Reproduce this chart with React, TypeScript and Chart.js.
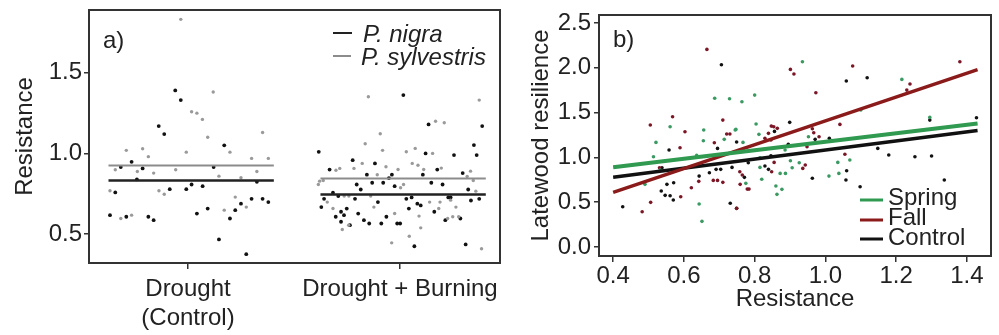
import React, { useEffect, useRef } from "react";
import { Chart, registerables } from "chart.js";
Chart.register(...registerables);

const FONT = '"Liberation Sans", Arial, Helvetica, sans-serif';
const TEXT = "#222";

// ---------- Panel a: Resistance by treatment ----------
const categoryLabels = [["Drought", "(Control)"], ["Drought + Burning"]];
const resistanceTicks = [0.5, 1.0, 1.5];

const droughtNigraJitter = [-0.06, -0.034, -0.138, -0.112, 0.171, -0.266, -0.317, -0.214, 0.121, -0.241, 0.325, -0.343, -0.086, -0.008, 0.017, 0.069, 0.25, 0.3, 0.352, 0.379, 0.093, 0.042, 0.223, 0.198, -0.368, -0.291, -0.187, -0.162, 0.146, 0.275];
const droughtNigraValues = [1.391, 1.331, 1.17, 1.12, 1.05, 0.948, 0.915, 0.907, 0.915, 0.839, 0.824, 0.758, 0.778, 0.778, 0.807, 0.797, 0.688, 0.718, 0.718, 0.698, 0.658, 0.627, 0.648, 0.596, 0.617, 0.607, 0.607, 0.586, 0.466, 0.375];

const droughtSylvJitter = [-0.034, 0.119, 0.017, 0.042, 0.068, 0.093, 0.352, -0.291, -0.214, -0.187, -0.008, 0.198, 0.3, 0.379, -0.343, -0.239, -0.162, -0.058, 0.146, 0.25, 0.325, -0.368, -0.137, -0.112, 0.223, 0.275, 0.171, -0.317, -0.266];
const droughtSylvValues = [1.832, 1.381, 1.259, 1.25, 1.211, 1.1, 1.13, 1.019, 1.029, 0.98, 1.008, 1.008, 0.969, 0.969, 0.899, 0.888, 0.878, 0.899, 0.859, 0.849, 0.888, 0.768, 0.768, 0.747, 0.729, 0.667, 0.648, 0.596, 0.617];

const burningNigraJitter = [0.016, 0.135, 0.388, -0.383, 0.121, 0.255, 0.349, 0.362, -0.223, -0.118, 0.176, -0.332, -0.156, -0.038, 0.108, 0.296, -0.131, -0.079, -0.052, -0.025, 0.148, 0.201, -0.204, -0.185, 0.322, -0.316, -0.291, -0.212, -0.358, 0.03, 0.055, 0.082, 0.098, 0.228, 0.239, 0.335, 0.374, -0.104, -0.371, -0.251, 0.042, -0.278, 0.162, -0.197, -0.303, -0.264, -0.064, 0.214, 0.285, -0.17, -0.278, -0.145, -0.088, -0.013, 0.001, -0.236, 0.068, 0.31];
const burningNigraValues = [1.362, 1.18, 1.17, 1.01, 1.0, 0.99, 1.052, 0.99, 0.958, 0.938, 0.9, 0.9, 0.868, 0.868, 0.868, 0.878, 0.818, 0.818, 0.847, 0.797, 0.818, 0.807, 0.807, 0.776, 0.776, 0.756, 0.735, 0.718, 0.718, 0.718, 0.727, 0.688, 0.677, 0.727, 0.727, 0.708, 0.718, 0.698, 0.667, 0.658, 0.658, 0.638, 0.638, 0.627, 0.607, 0.617, 0.607, 0.586, 0.596, 0.586, 0.576, 0.565, 0.565, 0.565, 0.565, 0.555, 0.424, 0.435];

const burningSylvJitter = [-0.149, 0.374, 0.168, 0.209, -0.093, -0.164, 0.072, -0.082, 0.03, 0.154, -0.178, -0.066, -0.009, 0.058, 0.085, 0.112, 0.195, 0.333, -0.302, -0.284, -0.217, -0.107, 0.317, -0.379, -0.362, 0.003, 0.017, 0.346, -0.385, 0.358, -0.263, -0.241, -0.138, -0.343, 0.14, 0.189, 0.239, -0.316, -0.123, 0.183, 0.264, -0.025, 0.09, 0.225, 0.249, 0.277, -0.242, -0.272, 0.098, 0.044, -0.039, 0.385];
const burningSylvValues = [1.352, 1.331, 1.2, 1.19, 1.122, 1.06, 1.031, 1.019, 1.01, 1.0, 0.938, 0.917, 0.9, 0.938, 0.927, 0.9, 0.909, 0.89, 0.896, 0.907, 0.907, 0.868, 0.857, 0.828, 0.832, 0.787, 0.807, 0.832, 0.807, 0.766, 0.735, 0.735, 0.735, 0.698, 0.698, 0.698, 0.71, 0.658, 0.667, 0.658, 0.667, 0.627, 0.611, 0.596, 0.607, 0.607, 0.555, 0.528, 0.538, 0.486, 0.445, 0.408];

const meanNigra = [0.832, 0.745];
const meanSylvestris = [0.925, 0.845];

// ---------- Panel b: Latewood resilience vs resistance ----------
const resistanceAxisTicks = [0.4, 0.6, 0.8, 1.0, 1.2, 1.4];
const resilienceTicks = [0.0, 0.5, 1.0, 1.5, 2.0, 2.5];

const springResistance = [0.687, 0.729, 0.561, 0.656, 0.747, 0.521, 0.655, 0.714, 0.514, 0.636, 0.533, 0.49, 0.643, 0.651, 0.935, 0.8, 0.764, 0.804, 0.812, 0.952, 0.745, 0.767, 0.886, 1.069, 0.815, 0.901, 0.926, 1.035, 0.815, 0.906, 0.872, 0.887, 0.82, 1.01, 1.038, 0.775, 0.86, 0.877, 0.863, 1.216, 1.1, 1.295, 0.488];
const springResilience = [1.66, 1.655, 1.343, 1.306, 1.313, 1.168, 1.186, 1.202, 1.008, 1.023, 0.859, 0.7, 0.48, 0.287, 2.068, 1.696, 1.622, 1.373, 1.258, 1.231, 1.306, 1.168, 1.083, 0.971, 0.997, 0.963, 0.941, 0.945, 0.889, 0.885, 0.822, 0.822, 0.756, 0.792, 0.822, 0.711, 0.681, 0.644, 0.588, 1.871, 1.529, 1.447, 0.718];

const fallResistance = [0.665, 0.568, 0.505, 0.603, 0.71, 0.721, 0.73, 0.686, 0.589, 0.642, 0.683, 0.695, 0.71, 0.621, 0.591, 0.506, 0.482, 0.749, 0.901, 0.911, 1.077, 0.973, 1.041, 0.847, 0.854, 0.864, 0.963, 0.967, 0.839, 0.829, 0.982, 0.846, 0.948, 1.055, 0.855, 0.943, 0.936, 0.848, 0.758, 0.765, 0.759, 0.779, 0.784, 1.38, 1.239, 1.23, 0.531];
const fallResilience = [2.206, 1.454, 1.362, 1.287, 1.417, 1.261, 1.261, 1.164, 1.108, 0.733, 0.744, 0.744, 0.722, 0.662, 0.562, 0.499, 0.394, 0.432, 1.983, 1.931, 2.02, 1.722, 1.369, 1.35, 1.343, 1.325, 1.32, 1.276, 1.269, 1.213, 1.231, 1.194, 1.12, 1.035, 0.945, 0.915, 0.878, 0.84, 0.84, 0.804, 0.7, 0.647, 0.647, 2.068, 1.819, 1.752, 0.885];

const controlResistance = [0.706, 0.695, 0.558, 0.538, 0.643, 0.672, 0.691, 0.704, 0.736, 0.571, 0.552, 0.536, 0.547, 0.561, 0.57, 0.427, 0.731, 0.899, 0.856, 0.971, 1.011, 0.749, 0.895, 0.846, 0.782, 0.829, 0.839, 0.771, 0.963, 1.058, 0.749, 1.059, 1.118, 1.295, 1.427, 1.148, 1.179, 1.253, 1.3, 1.336, 1.098, 1.06];
const controlResilience = [2.035, 1.101, 1.083, 0.885, 0.792, 0.829, 0.867, 0.867, 0.889, 0.718, 0.7, 0.625, 0.577, 0.573, 0.525, 0.45, 0.488, 1.392, 1.291, 1.202, 1.213, 1.172, 1.146, 1.019, 0.941, 0.904, 0.867, 0.778, 0.767, 0.748, 0.432, 1.853, 1.89, 1.417, 1.443, 1.101, 1.027, 1.008, 1.016, 0.748, 0.673, 0.852];

const fitRange = [0.4, 1.43];
const springFit = [0.89, 1.38];
const fallFit = [0.61, 1.98];
const controlFit = [0.78, 1.3];

const GREEN = "#2f9a50";
const GREEN_PT = "#3a9a62";
const RED = "#8b1a1a";
const RED_PT = "#7a1626";
const BLACK = "#111111";
const GRAY = "#9a9a9a";

const jitterPoints = (center: number, jitter: number[], values: number[]) =>
  jitter.map((j, i) => ({ x: center + j, y: values[i] }));
const pairPoints = (xs: number[], ys: number[]) => xs.map((x, i) => ({ x, y: ys[i] }));
const fitPoints = (ys: number[]) => fitRange.map((x, i) => ({ x, y: ys[i] }));
const meanSegment = (center: number, value: number) => [
  { x: center - 0.375, y: value },
  { x: center + 0.405, y: value },
];

const font = (size: number, style = "normal") => ({ family: FONT, size, style, lineHeight: 1.2 });

function fixAxis(size: number, horizontal: boolean) {
  return (scale: any) => {
    if (horizontal) {
      scale.height = size;
      scale.paddingLeft = 0;
      scale.paddingRight = 0;
    } else {
      scale.width = size;
      scale.paddingTop = 0;
      scale.paddingBottom = 0;
    }
  };
}

function boxPlugin(extra: (ctx: CanvasRenderingContext2D, area: any) => void) {
  return {
    id: "boxAndNotes",
    afterDraw(chart: any) {
      const { ctx, chartArea: a } = chart;
      ctx.save();
      ctx.strokeStyle = "#333";
      ctx.lineWidth = 2;
      ctx.strokeRect(a.left, a.top, a.right - a.left, a.bottom - a.top);
      extra(ctx, a);
      ctx.restore();
    },
  };
}

function legendLine(ctx: CanvasRenderingContext2D, x1: number, x2: number, y: number, color: string, w: number) {
  ctx.beginPath();
  ctx.strokeStyle = color;
  ctx.lineWidth = w;
  ctx.moveTo(x1, y);
  ctx.lineTo(x2, y);
  ctx.stroke();
}

const tickGrid = (len: number) => ({
  display: true,
  drawOnChartArea: false,
  drawTicks: true,
  tickLength: len,
  color: "#333",
  lineWidth: 1.5,
});

function configA(): any {
  const pts = (color: string, r: number) => ({ showLine: false, pointRadius: r, pointBackgroundColor: color, pointBorderWidth: 0, borderColor: color, order: 1 });
  const seg = (color: string, w: number) => ({ showLine: true, pointRadius: 0, borderColor: color, borderWidth: w, order: 0 });
  return {
    type: "scatter",
    data: {
      datasets: [
        { data: [...jitterPoints(1, droughtSylvJitter, droughtSylvValues), ...jitterPoints(2, burningSylvJitter, burningSylvValues)], ...pts(GRAY, 1.7) },
        { data: [...jitterPoints(1, droughtNigraJitter, droughtNigraValues), ...jitterPoints(2, burningNigraJitter, burningNigraValues)], ...pts(BLACK, 1.9) },
        { data: meanSegment(1, meanSylvestris[0]), ...seg("#8c8c8c", 2) },
        { data: meanSegment(2, meanSylvestris[1]), ...seg("#8c8c8c", 2) },
        { data: meanSegment(1, meanNigra[0]), ...seg("#222", 2.5) },
        { data: meanSegment(2, meanNigra[1]), ...seg("#222", 2.5) },
      ],
    },
    options: {
      animation: false,
      responsive: false,
      devicePixelRatio: 1,
      events: [],
      layout: { padding: { top: 10, right: 5, left: 0, bottom: 0 } },
      plugins: { legend: { display: false }, tooltip: { enabled: false } },
      scales: {
        x: {
          type: "linear",
          min: 0.533,
          max: 2.472,
          afterBuildTicks: (s: any) => { s.ticks = categoryLabels.map((_, i) => ({ value: i + 1 })); },
          afterFit: fixAxis(72, true),
          grid: tickGrid(6),
          border: { display: false },
          ticks: { font: font(24), color: TEXT, padding: 6, maxRotation: 0, autoSkip: false, callback: (v: number) => categoryLabels[Math.round(v) - 1] },
        },
        y: {
          min: 0.32,
          max: 1.89,
          afterBuildTicks: (s: any) => { s.ticks = resistanceTicks.map((v) => ({ value: v })); },
          afterFit: fixAxis(89, false),
          grid: tickGrid(5),
          border: { display: false },
          ticks: { font: font(24), color: TEXT, padding: 2, callback: (v: number) => v.toFixed(1) },
          title: { display: true, text: "Resistance", font: font(24), color: TEXT, padding: { top: 10.6, bottom: 0 } },
        },
      },
    },
    plugins: [
      boxPlugin((ctx) => {
        ctx.fillStyle = TEXT;
        ctx.textBaseline = "alphabetic";
        ctx.textAlign = "left";
        ctx.font = `24px ${FONT}`;
        ctx.fillText("a)", 103, 48);
        legendLine(ctx, 333, 352, 33, "#222", 2);
        legendLine(ctx, 333, 351, 56, "#8c8c8c", 2);
        ctx.fillStyle = TEXT;
        ctx.font = `italic 24px ${FONT}`;
        ctx.fillText("P. nigra", 363, 42);
        ctx.fillText("P. sylvestris", 361, 65);
      }),
    ],
  };
}

function configB(): any {
  const pts = (color: string) => ({ showLine: false, pointRadius: 1.8, pointBackgroundColor: color, pointBorderWidth: 0, borderColor: color, order: 1 });
  const fit = (color: string, w: number, order: number) => ({ showLine: true, pointRadius: 0, borderColor: color, borderWidth: w, order });
  return {
    type: "scatter",
    data: {
      datasets: [
        { data: pairPoints(springResistance, springResilience), ...pts(GREEN_PT) },
        { data: pairPoints(fallResistance, fallResilience), ...pts(RED_PT) },
        { data: pairPoints(controlResistance, controlResilience), ...pts(BLACK) },
        { data: fitPoints(controlFit), ...fit(BLACK, 3.5, 0.3) },
        { data: fitPoints(fallFit), ...fit(RED, 3.5, 0.2) },
        { data: fitPoints(springFit), ...fit(GREEN, 4, 0.1) },
      ],
    },
    options: {
      animation: false,
      responsive: false,
      devicePixelRatio: 1,
      events: [],
      layout: { padding: { top: 15, right: 8, left: 0, bottom: 0 } },
      plugins: { legend: { display: false }, tooltip: { enabled: false } },
      scales: {
        x: {
          type: "linear",
          min: 0.36,
          max: 1.468,
          afterBuildTicks: (s: any) => { s.ticks = resistanceAxisTicks.map((v) => ({ value: v })); },
          afterFit: fixAxis(79, true),
          grid: tickGrid(6),
          border: { display: false },
          ticks: { font: font(24), color: TEXT, padding: 0, maxRotation: 0, autoSkip: false, callback: (v: number) => v.toFixed(1) },
          title: { display: true, text: "Resistance", font: font(24), color: TEXT, padding: { top: 0, bottom: 21.6 } },
        },
        y: {
          min: -0.1,
          max: 2.59,
          afterBuildTicks: (s: any) => { s.ticks = resilienceTicks.map((v) => ({ value: v })); },
          afterFit: fixAxis(94, false),
          grid: tickGrid(5),
          border: { display: false },
          ticks: { font: font(24), color: TEXT, padding: 3, callback: (v: number) => v.toFixed(1) },
          title: { display: true, text: "Latewood resilience", font: font(24), color: TEXT, padding: { top: 21.6, bottom: 0 } },
        },
      },
    },
    plugins: [
      boxPlugin((ctx) => {
        ctx.fillStyle = TEXT;
        ctx.textBaseline = "alphabetic";
        ctx.textAlign = "left";
        ctx.font = `24px ${FONT}`;
        ctx.fillText("b)", 108, 47);
        legendLine(ctx, 355, 378, 200, GREEN, 3);
        legendLine(ctx, 355, 378, 220, RED, 3);
        legendLine(ctx, 355, 378, 239, BLACK, 3);
        ctx.fillStyle = TEXT;
        ctx.font = `24px ${FONT}`;
        ctx.fillText("Spring", 383, 205);
        ctx.fillText("Fall", 383, 225);
        ctx.fillText("Control", 383, 245);
      }),
    ],
  };
}

export default function App() {
  const refA = useRef<HTMLCanvasElement>(null);
  const refB = useRef<HTMLCanvasElement>(null);
  useEffect(() => {
    const a = new Chart(refA.current as HTMLCanvasElement, configA());
    const b = new Chart(refB.current as HTMLCanvasElement, configB());
    return () => {
      a.destroy();
      b.destroy();
    };
  }, []);
  return (
    <div style={{ position: "absolute", left: 0, top: 0, width: 999, height: 335, background: "#fff" }}>
      <canvas ref={refA} width={505} height={335} style={{ position: "absolute", left: 0, top: 0, width: 505, height: 335 }} />
      <canvas ref={refB} width={494} height={335} style={{ position: "absolute", left: 505, top: 0, width: 494, height: 335 }} />
    </div>
  );
}
